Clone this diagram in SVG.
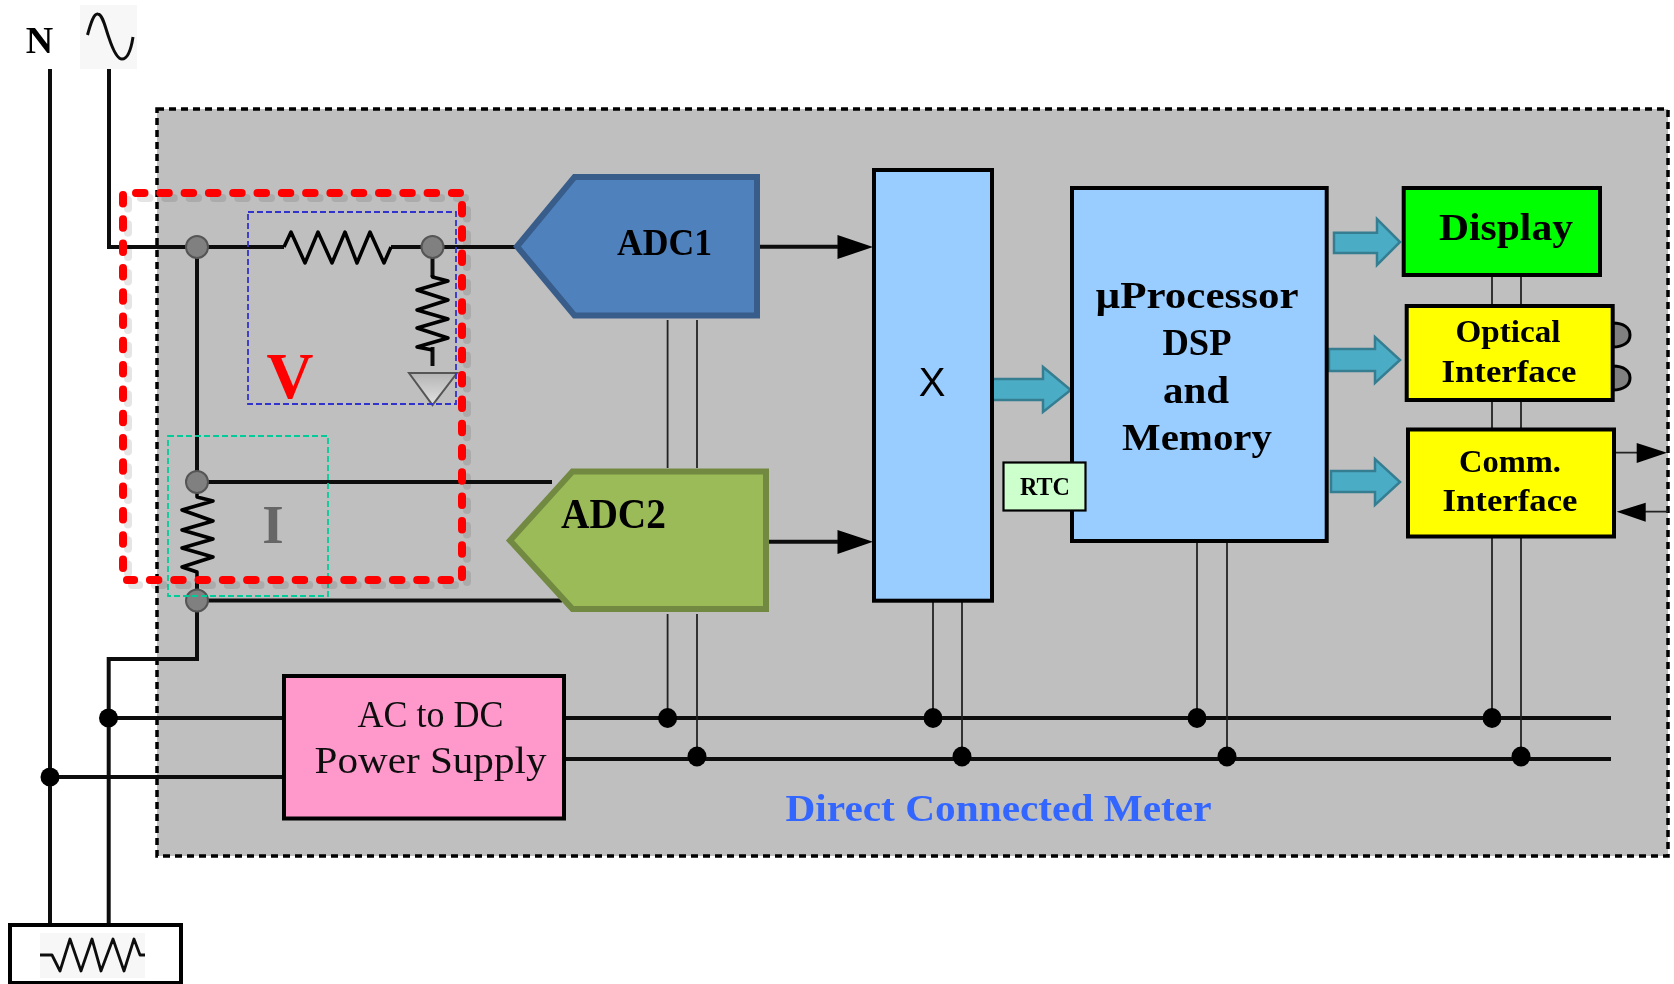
<svg xmlns="http://www.w3.org/2000/svg" width="1674" height="984" viewBox="0 0 1674 984">
<style>
text{font-family:"Liberation Serif","DejaVu Serif",serif;text-anchor:middle}
.b{font-weight:bold;fill:#000}
.w{fill:none;stroke:#111;stroke-width:4;stroke-linejoin:miter}
.t{fill:none;stroke:#222;stroke-width:1.8}
.z{fill:none;stroke:#000;stroke-width:3.500;stroke-linejoin:round}
.box{stroke:#000;stroke-width:4}
.fat{fill:#4bacc6;stroke:#357d91;stroke-width:2.500}
.gn{fill:#808080;stroke:#555;stroke-width:2}
.dot{fill:#000}
.ar{fill:#000}
.red{fill:none;stroke:#ff0000;stroke-width:8;stroke-linecap:round;stroke-dasharray:8.500 15.800}
.sh{fill:none;stroke:#000;stroke-opacity:.1;stroke-width:8;stroke-linecap:round;stroke-dasharray:8.500 15.800}
</style>
<defs>
<linearGradient id="g" x1="0" y1="0" x2="0" y2="1"><stop offset="0" stop-color="#b4b4b4"/><stop offset="1" stop-color="#e2e2e2"/></linearGradient>
<filter id="soft" x="0" y="0" width="1" height="1" filterUnits="objectBoundingBox"><feGaussianBlur stdDeviation="0.500"/></filter>
</defs>
<g filter="url(#soft)">
<rect x="0" y="0" width="1674" height="984" fill="#fff"/>
<g id="panel"><rect x="157" y="109" width="1511" height="747" fill="#bfbfbf" stroke="#000" stroke-width="3.500" stroke-dasharray="7 5"/></g>
<g id="source-n"><text class="b" x="39.500" y="53" font-size="38">N</text></g>
<g id="source-ac"><rect x="80" y="5" width="57" height="64" fill="#f7f7f7"/><path d="M87.500 35C91 22 94 13 98 14C103 15 105 27 109 38C113 50 117 59 122 59C128 59 131 50 133 37" fill="none" stroke="#111" stroke-width="3"/></g>
<g id="connectors">
<path class="w" d="M50 69V925M109 69V247H284M391 247H516M197 247V493M197 578V659H108.700V925M197 482H552M197 600.500H562M108 718H284M50 777H284M564 718H1611M564 759H1611M760 246.700H845M769 541.700H845M432.500 247V277M432.500 347V366"/>
<path class="t" d="M667.600 320V468M697 320V468M667.600 614V718M697 614V756M933 601V718M962 601V756M1197 541V718M1227 541V756M1492 536V718M1521 536V756M1492 275V306M1521 275V306M1492 400V429M1521 400V429M1614 452.700H1640M1668 511.700H1642"/>
<path class="ar" d="M837.500 235L873 247L837.500 259ZM837.500 530L873 541.700L837.500 554ZM1636.700 443L1667 452.700L1636.700 463ZM1645.700 502.700L1616.700 511.700L1645.700 521.700Z"/>
<circle class="dot" cx="108.500" cy="718" r="9.500"/><circle class="dot" cx="50" cy="777" r="9.500"/>
<ellipse class="dot" cx="667.600" cy="718" rx="9.500" ry="10"/><ellipse class="dot" cx="933" cy="718" rx="9.500" ry="10"/><ellipse class="dot" cx="1197" cy="718" rx="9.500" ry="10"/><ellipse class="dot" cx="1492" cy="718" rx="9.500" ry="10"/>
<ellipse class="dot" cx="697" cy="756.500" rx="9.500" ry="10"/><ellipse class="dot" cx="962" cy="756.500" rx="9.500" ry="10"/><ellipse class="dot" cx="1227" cy="756.500" rx="9.500" ry="10"/><ellipse class="dot" cx="1521" cy="756.500" rx="9.500" ry="10"/>
<polygon class="fat" points="992,379 1043,379 1043,367 1070.700,390 1043,412 1043,400 992,400"/>
<polygon class="fat" points="1334,232.700 1377,232.700 1377,219 1400,242 1377,265 1377,253 1334,253"/>
<polygon class="fat" points="1329,349 1375,349 1375,337 1400,360 1375,383 1375,371 1329,371"/>
<polygon class="fat" points="1331,471 1375,471 1375,459 1400,482 1375,505 1375,492 1331,492"/>
</g>
<g id="r-series"><polyline class="z" points="284,247 291,232 305,263 318,232 332,263 345,232 357,263 370,232 384,263 391,247"/></g>
<g id="r-divider"><polyline class="z" points="432.500,275 432.500,277 448,281 417,290 448,300 417,310 448,319 417,328 448,338 417,347 432.500,350"/><polygon points="409,373 457,373 432.500,405" fill="url(#g)" stroke="#555" stroke-width="2"/></g>
<g id="r-shunt"><polyline class="z" points="197,493 197,497 213,501 182,510 213,521 182,530 213,539 182,548 213,557 182,567 197,572 197,578"/></g>
<g id="nodes-gray"><circle class="gn" cx="197" cy="247" r="11"/><circle class="gn" cx="432.500" cy="247" r="11"/><circle class="gn" cx="197" cy="482" r="11"/><circle class="gn" cx="197" cy="600.500" r="11"/></g>
<g id="load"><rect x="10" y="925" width="171" height="58" fill="#fff" stroke="#000" stroke-width="4"/><rect x="40" y="933" width="105" height="45" fill="#f7f7f7"/><polyline points="40,955 52,955 60,971 70,939 81,971 92,939 101,971 113,939 124,971 134,939 140,955 145,955" fill="none" stroke="#111" stroke-width="2.800" stroke-linejoin="round"/></g>
<g id="adc1"><polygon points="517,246.500 574.500,177 757,177 757,315.500 574.500,315.500" fill="#4f81bd" stroke="#385d8a" stroke-width="6"/><text class="b" x="664.500" y="255" font-size="38" textLength="95" lengthAdjust="spacingAndGlyphs">ADC1</text></g>
<g id="adc2"><polygon points="510,540.500 572.500,471.500 766,471.500 766,609 572.500,609" fill="#9bbb59" stroke="#71893f" stroke-width="6"/><text class="b" x="613.500" y="528" font-size="42" textLength="105" lengthAdjust="spacingAndGlyphs">ADC2</text></g>
<g id="multiplier"><rect class="box" x="874" y="170" width="118" height="430.700" fill="#99ccff"/><text x="932" y="396" font-size="40" style="font-family:'Liberation Sans',sans-serif" fill="#000">X</text></g>
<g id="processor"><rect class="box" x="1072" y="188" width="254.700" height="353" fill="#99ccff"/>
<text class="b" x="1197" y="308" font-size="38" textLength="203" lengthAdjust="spacingAndGlyphs">µProcessor</text>
<text class="b" x="1197" y="355" font-size="38" textLength="69" lengthAdjust="spacingAndGlyphs">DSP</text>
<text class="b" x="1196" y="403" font-size="38" textLength="66" lengthAdjust="spacingAndGlyphs">and</text>
<text class="b" x="1197" y="450" font-size="38" textLength="150" lengthAdjust="spacingAndGlyphs">Memory</text></g>
<g id="rtc"><rect x="1003.500" y="462.500" width="82" height="48" fill="#ccffcc" stroke="#000" stroke-width="2.200"/><text class="b" x="1045" y="494.500" font-size="26" textLength="50" lengthAdjust="spacingAndGlyphs">RTC</text></g>
<g id="display"><rect class="box" x="1403.700" y="188" width="196.300" height="87" fill="#00ff00"/><text class="b" x="1506" y="240" font-size="38" textLength="134" lengthAdjust="spacingAndGlyphs">Display</text></g>
<g id="optical"><path d="M1612.700 323C1624 323 1630 328 1630 335C1630 342 1624 347 1612.700 347ZM1612.700 366C1624 366 1630 371 1630 378C1630 385 1624 390 1612.700 390Z" fill="#808080" stroke="#000" stroke-width="3"/><rect class="box" x="1406.700" y="306" width="206" height="94" fill="#ffff00"/><text class="b" x="1508" y="342" font-size="32" textLength="105" lengthAdjust="spacingAndGlyphs">Optical</text><text class="b" x="1509" y="381.700" font-size="32" textLength="135" lengthAdjust="spacingAndGlyphs">Interface</text></g>
<g id="comm"><rect class="box" x="1408" y="429.500" width="206" height="107" fill="#ffff00"/><text class="b" x="1510" y="471.700" font-size="32" textLength="102" lengthAdjust="spacingAndGlyphs">Comm.</text><text class="b" x="1510" y="510.700" font-size="32" textLength="135" lengthAdjust="spacingAndGlyphs">Interface</text></g>
<g id="psu"><rect class="box" x="284" y="676" width="280" height="142.500" fill="#ff99cc"/><text x="430.500" y="726.500" font-size="38" fill="#111" textLength="146" lengthAdjust="spacingAndGlyphs">AC to DC</text><text x="430.500" y="773" font-size="38" fill="#111" textLength="232" lengthAdjust="spacingAndGlyphs">Power Supply</text></g>
<g id="meter-label"><text x="998.500" y="821" font-size="38" font-weight="bold" fill="#3366ff" textLength="426" lengthAdjust="spacingAndGlyphs">Direct Connected Meter</text></g>
<g id="zones">
<rect x="248" y="212" width="208" height="192" fill="none" stroke="#3333cc" stroke-width="1.800" stroke-dasharray="6 3"/>
<rect x="168" y="436" width="160" height="160" fill="none" stroke="#00cc99" stroke-width="1.800" stroke-dasharray="6 3"/>
<path class="sh" d="M141 198H465M467 210V582M455 585H132M128 573V200"/>
<path class="red" d="M136 193H460M462 205V577M450 580H127M123 568V195"/>
<text x="290" y="398" font-size="65" font-weight="bold" fill="#ff0000">V</text>
<text x="273" y="543" font-size="55" font-weight="bold" fill="#666">I</text>
</g>
</g>
</svg>
